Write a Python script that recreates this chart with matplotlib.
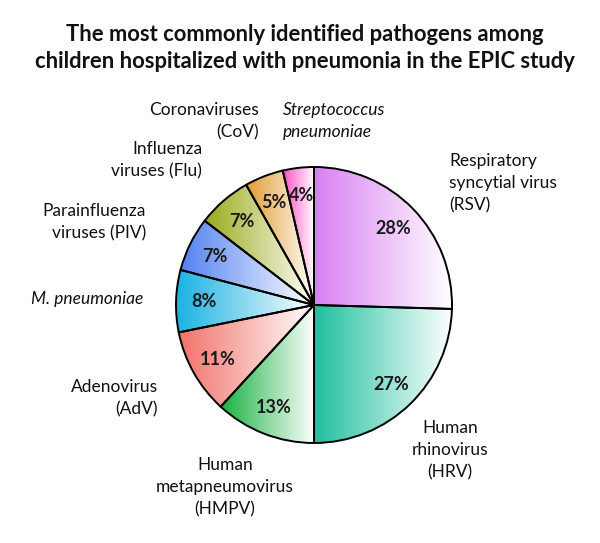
import numpy as np
import matplotlib
matplotlib.use("Agg")
import matplotlib.pyplot as plt

plt.rcParams['font.family'] = ['Lato', 'DejaVu Sans']

# Data
categories = ["Respiratory\nsyncytial virus\n(RSV)", "Human\nrhinovirus\n(HRV)",
              "Human\nmetapneumovirus\n(HMPV)", "Adenovirus\n(AdV)", "M. pneumoniae",
              "Parainfluenza\nviruses (PIV)", "Influenza\nviruses (Flu)",
              "Coronaviruses\n(CoV)", "Streptococcus\npneumoniae"]
values = [28, 27, 13, 11, 8, 7, 7, 5, 4]
pct_labels = ["28%", "27%", "13%", "11%", "8%", "7%", "7%", "5%", "4%"]
colors = ["#d880f2", "#1ec09e", "#1ab242", "#f2726a", "#1ab2e2",
          "#5482f2", "#9aaa1a", "#e09c32", "#ff52c8"]
italic = [False, False, False, False, True, False, False, False, True]

title = "The most commonly identified pathogens among\nchildren hospitalized with pneumonia in the EPIC study"

W, H = 600, 543
fig = plt.figure(figsize=(W / 100, H / 100), dpi=100)
ax = fig.add_axes([0, 0, 1, 1])

def Y(y):
    return H - y

cx, cy, R = 314, Y(305), 138
wedges, _ = ax.pie(values, startangle=90, counterclock=False, center=(cx, cy), radius=R,
                   colors=colors, wedgeprops=dict(edgecolor="black", linewidth=1.4))

for w, c, p in zip(wedges, colors, pct_labels):
    t = np.radians(np.linspace(w.theta1, w.theta2, 200))
    xs = np.concatenate([[cx], cx + R * np.cos(t)])
    ys = np.concatenate([[cy], cy + R * np.sin(t)])
    rgb = np.array(matplotlib.colors.to_rgb(c))
    f = np.linspace(0, 1, 256)[:, None]
    grad = (rgb[None, :] * (1 - f) + np.ones(3)[None, :] * f)[None, :, :]
    im = ax.imshow(grad, extent=(xs.min(), xs.max(), ys.min(), ys.max()),
                   interpolation="bilinear", aspect="auto", zorder=0.5)
    im.set_clip_path(w)
    w.set_facecolor("none")
    w.set_zorder(1)
    mid = np.radians((w.theta1 + w.theta2) / 2)
    ax.text(cx + 0.8 * R * np.cos(mid), cy + 0.8 * R * np.sin(mid), p,
            ha="center", va="center", fontsize=13, fontweight="bold",
            color="#1a1a1a", zorder=3)

# outside labels: (x, y, ha)
label_pos = [(449, 183, "left"), (450, 450, "center"), (225, 487, "center"),
             (158, 398, "right"), (143, 299, "right"), (146, 222, "right"),
             (202, 160, "right"), (259, 121, "right"), (283, 121, "left")]
for lab, (x, y, ha), it in zip(categories, label_pos, italic):
    ax.text(x, Y(y), lab, ha=ha, va="center", multialignment=ha, fontsize=12.5,
            fontstyle="italic" if it else "normal", color="#111111",
            linespacing=1.45)

ax.text(305, Y(48), title, ha="center", va="center", fontsize=15.8,
        fontweight="bold", color="#111111", linespacing=1.33)

ax.set_xlim(0, W)
ax.set_ylim(0, H)
ax.set_aspect("equal")
ax.axis("off")
fig.savefig("out.png", dpi=100, facecolor="white")
